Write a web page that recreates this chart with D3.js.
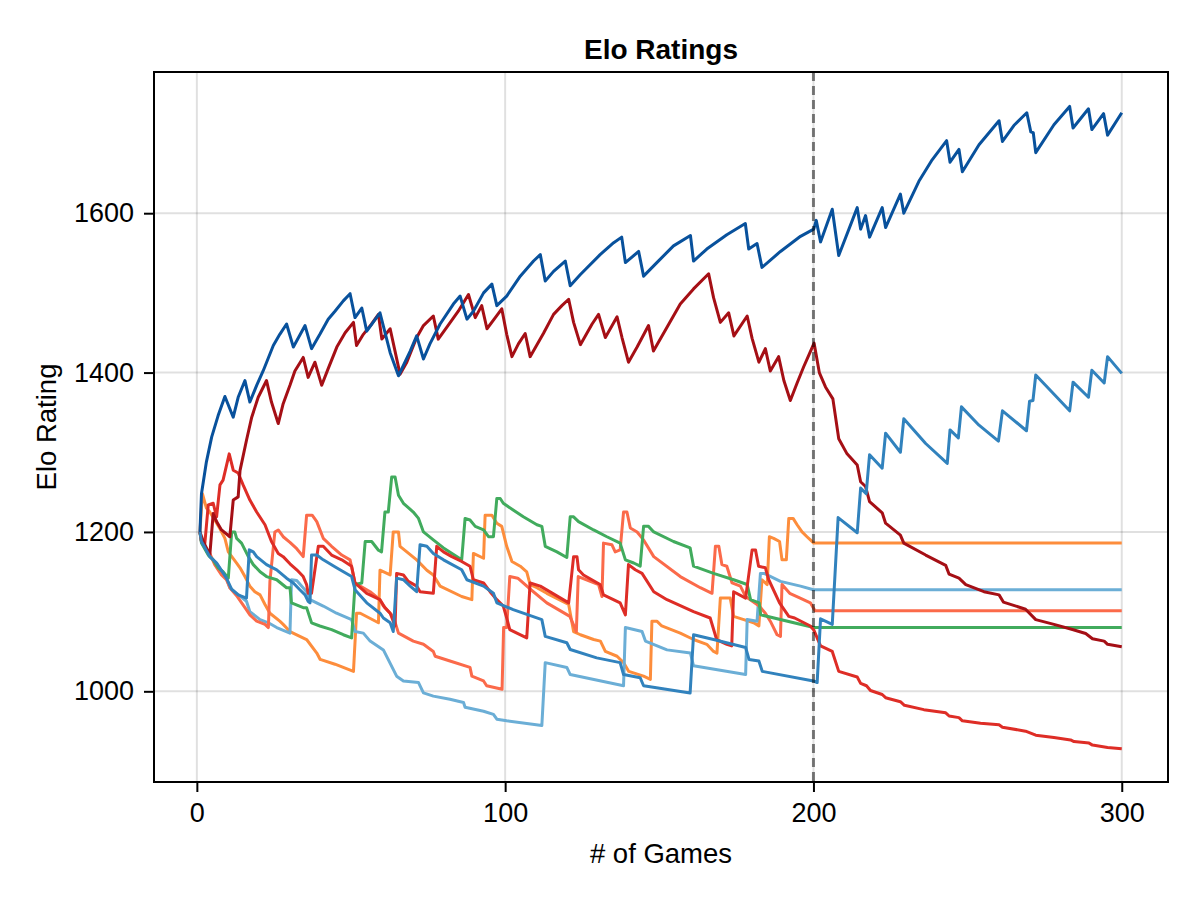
<!DOCTYPE html>
<html>
<head>
<meta charset="utf-8">
<script src="https://cdn.jsdelivr.net/npm/d3@7"></script>
<style>
  body { margin: 0; background: #fff; }
  text { font-family: "Liberation Sans", "Helvetica", Arial, sans-serif; }
</style>
</head>
<body>
<div id="chart"></div>
<script>
// ratings: [game, elo]
const darkBlue = [[1,1200],[1.5,1248],[3.1,1288],[4.8,1319],[6.9,1346],[9.1,1370],[11.8,1344],[13.4,1369],[15.6,1390],[17.2,1363],[19.4,1384],[21.5,1402],[24.8,1434],[26.9,1448],[29.1,1461],[31.3,1432],[35.1,1459],[37.2,1430],[39.9,1448],[42.6,1467],[44.8,1477],[47.5,1490],[49.7,1499],[51.3,1469],[53.5,1481],[55.1,1452],[59.4,1475],[62.7,1425],[65.4,1396],[69.2,1427],[71.3,1446],[73.5,1417],[75.6,1436],[78.9,1461],[83.2,1486],[85.4,1496],[87.6,1467],[89.7,1477],[93,1500],[95.7,1511],[97.3,1484],[100.5,1496],[104.9,1521],[109.2,1540],[111.4,1548],[113,1515],[115.7,1527],[119.5,1540],[121.1,1509],[124.4,1523],[130.8,1548],[135.2,1563],[137.8,1570],[139,1538],[143.3,1552],[144.9,1521],[149.2,1538],[154.6,1559],[160.1,1572],[161.1,1540],[165.4,1555],[171.9,1573],[177.9,1587],[179,1555],[181.7,1562],[183.3,1532],[189.3,1552],[195.8,1571],[200.1,1580],[200.9,1591],[202.3,1564],[206.1,1605],[208.2,1547],[214.2,1607],[215.3,1580],[216.9,1597],[218.2,1570],[222.3,1607],[223.4,1582],[228.2,1624],[229.3,1600],[234.2,1640],[238.5,1667],[243.2,1691],[244.3,1664],[247.2,1680],[248.3,1652],[253.7,1686],[260.2,1716],[261.3,1690],[265,1710],[269.2,1726],[270.5,1702],[271.3,1701],[272.1,1676],[278,1711],[283.1,1734],[284.2,1707],[289.2,1731],[290.3,1705],[294.1,1725],[295.4,1698],[300,1726]];

const darkRed = [[1,1200],[2.1,1188],[4.2,1171],[5.3,1223],[6.4,1213],[8,1202.5],[10.7,1194],[11.8,1240],[13.4,1244],[14,1277],[16.1,1315],[17.8,1344],[19.9,1369],[22.6,1390],[24.2,1363],[26.4,1336],[28,1361],[30.2,1384],[31.8,1402],[34.5,1419],[36.1,1394],[38.3,1413],[40.5,1384],[42.6,1405],[45.4,1432],[48.1,1450],[50.8,1463],[51.8,1434],[54,1448],[56.7,1461],[58.9,1473],[60,1442],[62.7,1455],[65.9,1398],[68.1,1413],[71.3,1444],[73.5,1459],[76.7,1471],[78.3,1442],[81.1,1457],[84.8,1477],[88.1,1498],[90.3,1469],[92.4,1484],[94.1,1455],[96.8,1469],[98.9,1480],[100.5,1448],[102.2,1420],[104.3,1436],[106.5,1449],[108.1,1420],[112.4,1449],[115.7,1473],[118.4,1484],[120.6,1492],[122.2,1463],[124.4,1435],[128.2,1461],[130.3,1473],[132.5,1444],[136.3,1470],[137.9,1444],[140,1413],[142.8,1432],[146.5,1459],[148.1,1427],[152.5,1457],[156.8,1486],[161.1,1505],[166,1524],[167.6,1494],[169.8,1463],[172.5,1475],[174.2,1446],[178.5,1471],[180.1,1443],[182.3,1413],[184.4,1430],[186,1402],[188.7,1420],[190.4,1390],[192.5,1365],[194.7,1387],[196.8,1407],[198.5,1422],[200.2,1437],[201.9,1400],[203.9,1382],[206.3,1367],[208.2,1317],[210.9,1298],[214.2,1284],[215.3,1263],[216.9,1257],[218.2,1238],[222.3,1224],[223.4,1211],[228.2,1196],[229.3,1186],[236.4,1171],[242.9,1158],[244,1147],[247.2,1142],[249.4,1134],[255.3,1125],[260.2,1121],[261.6,1112],[268.8,1103],[272.1,1090],[278,1084],[284,1077.5],[288.3,1072.5],[290.5,1066],[294.3,1063],[295.4,1059],[300,1056]];

const midBlue = [[1,1200],[1.5,1188],[4.2,1169],[6.4,1161],[9.6,1142],[11.3,1128],[13.4,1121],[16.1,1117],[17,1177.5],[18.3,1175],[19.4,1169],[22.6,1159],[25.9,1152.5],[29.1,1142],[31.3,1136],[33.4,1127.5],[35.1,1121],[36.1,1113],[36.7,1111],[37.2,1171],[38.9,1171],[41,1165],[45.3,1155],[50.2,1144],[51.3,1127.5],[55.1,1111],[59.4,1098],[60.5,1092],[62.7,1086],[63.7,1075],[64.8,1142],[67,1140],[69.2,1132],[71.3,1125],[72.4,1184],[74.6,1182],[76.7,1173],[80,1165],[85.9,1152.5],[87.6,1140],[93,1132],[96.2,1123],[97.3,1111],[102.6,1102.5],[111.9,1090],[113,1069],[120,1061],[121.1,1052.5],[129.7,1042],[137.3,1036],[138.4,1021],[143.8,1017],[144.9,1007],[160,998],[161.1,1071],[167.6,1065],[178,1055],[179.1,1040],[182.3,1038],[183.4,1025],[200,1013],[201.2,1011],[202.3,1091],[206.1,1084],[208,1218],[214.2,1199],[215.3,1255],[217.1,1248],[218.2,1297],[222.3,1280],[223.4,1324],[228.2,1300],[229.3,1342],[236.4,1311],[243.4,1286],[244.3,1328],[247,1318],[248,1357],[253.7,1334],[260,1314],[261.3,1352],[269.1,1327],[270.1,1364],[271.2,1365],[272.1,1397],[277.5,1375],[283.1,1352],[284.2,1388],[289.2,1369],[290.3,1403],[294.3,1387],[295.4,1420],[300,1399]];

const red = [[1,1200],[1.5,1188],[2.6,1186],[3.7,1234],[5.3,1236],[6.4,1219],[7.5,1259],[8.5,1265],[10.5,1298],[11.8,1277.5],[13.4,1274],[15,1259],[17.2,1240],[19.4,1225],[22.1,1209],[24.2,1188],[26.4,1173],[28,1169],[30.2,1160],[32.4,1152.5],[34.5,1144],[35.6,1134],[36.1,1123],[37.2,1123],[39.4,1182],[41,1182],[43.7,1171],[47,1165],[50.2,1157],[51.3,1136],[55.1,1123],[59.4,1115],[61,1105],[62.7,1098],[64.3,1082],[64.8,1148],[67,1146],[68.6,1138],[71.3,1132],[72.4,1125],[76.7,1123],[77.8,1182],[80,1175],[82.7,1169],[85.9,1163],[88.6,1157],[89.7,1140],[93,1136],[95.1,1125],[97.3,1115],[99.4,1107],[100.5,1092],[101.5,1077.5],[103.8,1073],[107,1067],[108.1,1136],[111.4,1132],[120.6,1111],[122.2,1169],[123.3,1169],[123.8,1152.5],[125.4,1146],[130.8,1134],[131.9,1121],[137.3,1111],[139,1096],[140,1159],[142.2,1152.5],[144.4,1148],[148.2,1125],[152.5,1115],[161.1,1100],[166.5,1092],[168.6,1065],[171.9,1059],[173.5,1057],[174.1,1125],[178,1117],[180.1,1177.5],[181.2,1177.5],[182.2,1157],[184.4,1155],[185.5,1140],[189,1111],[192,1094],[193.9,1092],[199,1082],[200.1,1077],[202.3,1057],[206.1,1050],[208.2,1025],[214.2,1018],[215.3,1010],[217.2,1007],[218.5,1001],[222.3,996],[223.4,992],[228.2,987],[229.5,982.5],[235.8,977],[242.9,973],[244,969],[247.2,967],[248.3,963],[254.2,960],[260.2,958],[261.3,955],[268.8,950],[272.1,945],[278,942],[283.4,939],[284.5,937],[289.4,935],[290.5,932.5],[295.4,929.6],[300,928]];

const salmon = [[1,1200],[1.5,1188],[4.2,1173],[5.8,1159],[8,1146],[9.6,1140],[10.7,1130],[12.9,1120],[15.6,1105],[17.2,1096],[19.4,1088],[22.1,1084],[23.2,1080],[23.7,1138],[25.3,1200],[26.4,1202.5],[28,1194],[30.2,1187],[32.4,1179],[34.5,1169],[35.6,1221],[37.4,1221],[38.9,1213],[41,1192],[43.7,1182],[47,1171],[49.7,1165],[51.3,1136],[56.2,1125],[59.4,1115],[60.5,1107],[63.7,1094],[65.4,1073],[70.2,1063],[73.5,1059],[76.7,1050],[77.3,1044],[82.1,1038],[88.6,1030],[89.2,1019],[93,1013],[94,1007],[99,1002.5],[99.5,1080],[100.5,1080],[101.5,1144],[104.1,1142],[107.6,1130],[113.5,1111],[121,1094],[123.1,1075],[123.7,1144],[130.3,1134],[131.4,1119],[131.9,1186],[134.6,1184],[135.7,1175],[137.3,1177.5],[138.4,1225],[139.5,1225],[140.6,1205],[142.8,1200],[144.9,1190],[148.2,1169],[156.8,1144],[163.3,1130],[167.1,1123],[168.2,1182],[169.3,1182],[170.3,1159],[171.9,1157],[173.6,1136],[176.3,1132],[178,1119],[182.4,1107],[184.4,1098],[186,1088],[188.2,1071],[189.3,1069],[189.8,1134],[192.3,1123],[195.7,1117],[199,1111],[200.5,1101],[300,1101]];

const orange = [[1,1200],[1.8,1248],[3.1,1230],[4.2,1225],[5.8,1215],[7.5,1204],[9.1,1192],[10.2,1175],[12.9,1161],[14,1155],[15.6,1144],[17.2,1132],[18.8,1125],[20.5,1121],[22.1,1109],[23.7,1098],[26.9,1088],[28,1084],[30.2,1075],[35.6,1065],[38.9,1048],[40,1040],[44.8,1034],[50.8,1025],[51.8,1098],[53,1098],[58.9,1086],[59.4,1152],[62.7,1146],[63.7,1200],[65.4,1200],[65.9,1182],[71.3,1165],[74.6,1152],[76.7,1146],[78.9,1132],[85.9,1119],[89.2,1115],[89.7,1173],[93,1167],[93.5,1221],[95.7,1221],[97.3,1211],[98.9,1207],[100.5,1182],[102.2,1163],[104.9,1157],[107,1150],[108.1,1134],[110.3,1130],[113.5,1123],[120.6,1109],[122.2,1075],[124.4,1071],[128.7,1065],[130.9,1063],[132.5,1050],[136.3,1044],[138.4,1036],[140.1,1025],[144.9,1019],[147.1,1015],[147.6,1088],[149.2,1088],[150.8,1082],[156.8,1073],[161.1,1065],[165.4,1059],[167.6,1050],[168.7,1048],[169.8,1117],[173,1117],[174.1,1094],[177.4,1090],[180.6,1086],[182.3,1082],[183.3,1140],[185,1134],[185.7,1194],[187.1,1192],[189,1188],[189.8,1165],[191.2,1165],[192,1217],[193.4,1217],[194.7,1209],[196.3,1200],[197.9,1194],[199,1190],[200.1,1186],[300,1186]];

const lightBlue = [[1,1200],[1.5,1188],[4.2,1169],[6.4,1161],[9.6,1142],[10.7,1130],[12.9,1123],[16.1,1113],[17.2,1100],[20.5,1090],[23.2,1086],[25.9,1080],[30.2,1073],[30.7,1140],[32.4,1139],[35.6,1125],[36.7,1115],[41,1107],[45.3,1098],[50.2,1090],[51.3,1075],[54,1073],[56.2,1063],[60.5,1052],[64.8,1019],[67,1013],[71.9,1011],[73.5,998],[76.7,994],[82.1,990],[86.5,986],[87,980],[93,975],[96.2,971],[97.3,965],[100.5,963],[111.9,957],[113,1036],[120,1030],[121.1,1021],[138.4,1007],[139,1080],[144.4,1075],[145.5,1063],[152.5,1052],[160.1,1048],[161.1,1032],[178,1021],[178.5,1090],[181.7,1088],[182.8,1148],[184,1148],[189.3,1138],[195.8,1132],[200,1127.5],[300,1127.5]];

const green = [[1,1200],[1.5,1186],[3.7,1171],[5.3,1165],[6.9,1155],[8.5,1150],[10.2,1142],[11.3,1200],[12.3,1200],[12.9,1192],[14.5,1186],[16.7,1169],[18.3,1159],[20.5,1150],[22.6,1144],[25.9,1140],[29.1,1130],[30.2,1130],[30.7,1111],[34.5,1105],[35.6,1105],[37.2,1086],[39.9,1082],[43.7,1077.5],[47.5,1071],[50.2,1067],[51.3,1134],[53.5,1136],[54.6,1188],[56.7,1188],[58.9,1177],[59.9,1175],[61,1225],[62.1,1225],[63.2,1269],[64.3,1269],[65.4,1246],[67,1236],[70.2,1225],[71.9,1217],[73.5,1200],[76.7,1190],[80,1180],[85.9,1165],[87,1217],[88.6,1215],[90.3,1207],[93,1202.5],[94.6,1194],[96.2,1194],[97.3,1242],[98.4,1242],[99.4,1236],[102.6,1227.5],[105.9,1219],[110.3,1209],[111.9,1207],[113,1182],[116.8,1175],[120,1168],[121.1,1219],[122.2,1219],[123.8,1213],[128.7,1202.5],[133,1194],[137.3,1186],[139,1165],[141.7,1161],[143.8,1157],[144.9,1207],[146.5,1207],[148.2,1200],[154.6,1188],[160,1180],[161.1,1157],[167.6,1148],[174.1,1140],[178.5,1134],[179.6,1115],[182.4,1111],[182.9,1096],[200.1,1080],[300,1080]];

const xTicks = [0, 100, 200, 300];
const yTicks = [1000, 1200, 1400, 1600];
const splitGame = 200;

// draw order, bottom to top
const series = [
    { data: orange, color: '#fd8d3c' },
    { data: lightBlue, color: '#6baed6' },
    { data: salmon, color: '#fb6a4a' },
    { data: green, color: '#41ab5d' },
    { data: red, color: '#de2d26' },
    { data: darkRed, color: '#a50f15' },
    { data: midBlue, color: '#3182bd' },
    { data: darkBlue, color: '#08519c' }
];

const width = 1200, height = 900;
const plot = { left: 154, right: 1168, top: 72, bottom: 782 };

const svg = d3.select('#chart')
    .append('svg')
    .attr('width', width)
    .attr('height', height);

const xScale = d3.scaleLinear()
    .domain([-13.9, 315])
    .range([plot.left, plot.right]);

const yScale = d3.scaleLinear()
    .domain([886.2, 1777.2])
    .range([plot.bottom, plot.top]);

// grid
svg.append('g')
    .selectAll('line')
    .data(xTicks)
    .join('line')
    .attr('x1', d => xScale(d)).attr('x2', d => xScale(d))
    .attr('y1', plot.top).attr('y2', plot.bottom)
    .attr('stroke', 'rgba(0,0,0,0.12)')
    .attr('stroke-width', 2);

svg.append('g')
    .selectAll('line')
    .data(yTicks)
    .join('line')
    .attr('x1', plot.left).attr('x2', plot.right)
    .attr('y1', d => yScale(d)).attr('y2', d => yScale(d))
    .attr('stroke', 'rgba(0,0,0,0.12)')
    .attr('stroke-width', 2);

svg.append('clipPath').attr('id', 'plotClip')
    .append('rect')
    .attr('x', plot.left).attr('y', plot.top)
    .attr('width', plot.right - plot.left)
    .attr('height', plot.bottom - plot.top);

const line = d3.line()
    .x(d => xScale(d[0]))
    .y(d => yScale(d[1]));

const lines = svg.append('g').attr('clip-path', 'url(#plotClip)');

series.forEach(s => {
    lines.append('path')
        .datum(s.data)
        .attr('d', line)
        .attr('fill', 'none')
        .attr('stroke', s.color)
        .attr('stroke-width', 3)
        .attr('stroke-linejoin', 'round');
});

// vertical marker at game 200
lines.append('line')
    .attr('x1', xScale(splitGame)).attr('x2', xScale(splitGame))
    .attr('y1', plot.top).attr('y2', plot.bottom)
    .attr('stroke', 'rgba(0,0,0,0.5)')
    .attr('stroke-width', 3)
    .attr('stroke-dasharray', '9,5');

// frame
svg.append('rect')
    .attr('x', plot.left).attr('y', plot.top)
    .attr('width', plot.right - plot.left)
    .attr('height', plot.bottom - plot.top)
    .attr('fill', 'none')
    .attr('stroke', '#000')
    .attr('stroke-width', 2);

// axes
const xAxis = svg.append('g')
    .attr('transform', `translate(0, ${plot.bottom})`)
    .call(d3.axisBottom(xScale).tickValues(xTicks).tickSize(10).tickPadding(11).tickFormat(d3.format('d')));

const yAxis = svg.append('g')
    .attr('transform', `translate(${plot.left}, 0)`)
    .call(d3.axisLeft(yScale).tickValues(yTicks).tickSize(10).tickPadding(10).tickFormat(d3.format('d')));

[xAxis, yAxis].forEach(ax => {
    ax.select('.domain').remove();
    ax.selectAll('.tick line').attr('stroke', '#000').attr('stroke-width', 2);
    ax.selectAll('.tick text')
        .attr('fill', '#000')
        .style('font-size', '27px')
        .style('font-family', '"Liberation Sans", Arial, sans-serif');
});

// labels
const cx = (plot.left + plot.right) / 2;

svg.append('text')
    .attr('x', cx)
    .attr('y', 59)
    .attr('text-anchor', 'middle')
    .style('font-size', '28px')
    .style('font-weight', 'bold')
    .text('Elo Ratings');

svg.append('text')
    .attr('x', cx)
    .attr('y', 863)
    .attr('text-anchor', 'middle')
    .style('font-size', '27.5px')
    .text('# of Games');

svg.append('text')
    .attr('transform', `translate(56, ${(plot.top + plot.bottom) / 2}) rotate(-90)`)
    .attr('text-anchor', 'middle')
    .style('font-size', '27.5px')
    .text('Elo Rating');
</script>
</body>
</html>
